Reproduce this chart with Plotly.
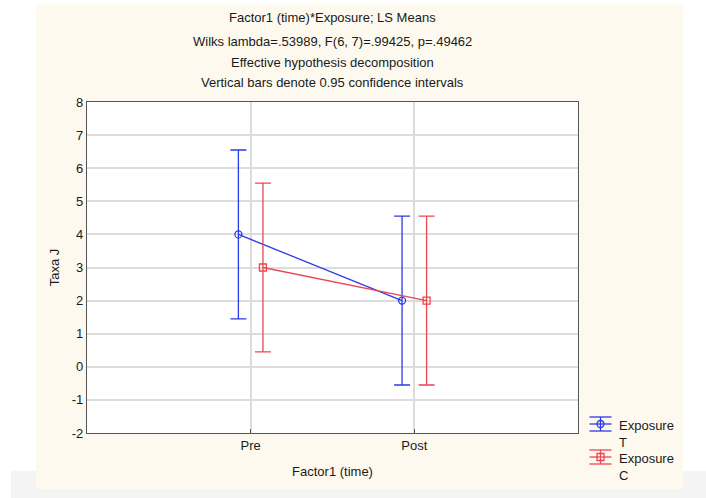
import plotly.graph_objects as go

# LS means by time point and exposure group, with 95% CI half-widths
categories = ["Pre", "Post"]
group_names = ["Exposure<br>T", "Exposure<br>C"]
means_T = [4.0, 2.0]
means_C = [3.0, 2.0]
ci_T = [2.55, 2.55]
ci_C = [2.55, 2.55]
y_ticks = [-2, -1, 0, 1, 2, 3, 4, 5, 6, 7, 8]

title_lines = [
    "Factor1 (time)*Exposure; LS Means",
    "Wilks lambda=.53989, F(6, 7)=.99425, p=.49462",
    "Effective hypothesis decomposition",
    "Vertical bars denote 0.95 confidence intervals",
]

W, H = 706, 498
L, R, T, B = 87, 128, 102, 65
pw, ph = W - L - R, H - T - B

def px_x(x):
    return (x - L) / pw

def px_y(y):
    return (H - B - y) / ph

FONT = "Liberation Sans, Arial, sans-serif"
BLUE = "#2B3BE6"
RED = "#EC4652"
shift = 0.075

fig = go.Figure()
series = [
    (group_names[0], means_T, ci_T, BLUE, "circle-open", "circle", -shift),
    (group_names[1], means_C, ci_C, RED, "square-open", "rect", shift),
]
for name, m, ci, col, sym, _, off in series:
    fig.add_trace(go.Scatter(
        x=[i + off for i in range(len(categories))],
        y=m,
        mode="lines+markers",
        name=name,
        showlegend=False,
        line=dict(color=col, width=1.3),
        marker=dict(symbol=sym, size=7, color=col, line=dict(width=1.3, color=col)),
        error_y=dict(type="data", array=ci, visible=True, color=col, thickness=1.3, width=8),
    ))

shapes = [
    # light strip at the bottom of the page
    dict(type="rect", xref="paper", yref="paper", layer="below",
         x0=px_x(11), x1=px_x(706), y0=px_y(498), y1=px_y(471),
         fillcolor="#F4F4F4", line=dict(width=0)),
    # cream panel behind the chart
    dict(type="rect", xref="paper", yref="paper", layer="below",
         x0=px_x(36), x1=px_x(683), y0=px_y(489), y1=px_y(4.5),
         fillcolor="#FDF9EE", line=dict(width=0)),
    # white plotting area
    dict(type="rect", xref="paper", yref="paper", layer="below",
         x0=0, x1=1, y0=0, y1=1,
         fillcolor="#FFFFFF", line=dict(width=0)),
]

annotations = []
for txt, ypx in zip(title_lines, [17, 41, 63, 82]):
    annotations.append(dict(
        text=txt, xref="paper", yref="paper", x=0.5, y=px_y(ypx),
        xanchor="center", yanchor="middle", showarrow=False,
        font=dict(family=FONT, size=13, color="#1a1a1a"),
    ))

# legend: error-bar glyph followed by a two-line label
gx0, gx1, gxc = 589.5, 611.5, 600.5
for k, (name, _, _, col, _, shp, _) in enumerate(series):
    cy = 424 + k * 33
    for dy in (-7, 0, 7):
        shapes.append(dict(type="line", xref="paper", yref="paper",
                           x0=px_x(gx0), x1=px_x(gx1), y0=px_y(cy + dy), y1=px_y(cy + dy),
                           line=dict(color=col, width=1.3)))
    shapes.append(dict(type="line", xref="paper", yref="paper",
                       x0=px_x(gxc), x1=px_x(gxc), y0=px_y(cy - 7), y1=px_y(cy + 7),
                       line=dict(color=col, width=1.3)))
    shapes.append(dict(type=shp, xref="paper", yref="paper",
                       x0=px_x(gxc - 3.5), x1=px_x(gxc + 3.5),
                       y0=px_y(cy + 3.5), y1=px_y(cy - 3.5),
                       fillcolor="rgba(0,0,0,0)", line=dict(color=col, width=1.3)))
    annotations.append(dict(
        text=name, xref="paper", yref="paper", x=px_x(617), y=px_y(cy - 8.5),
        xanchor="left", yanchor="top", align="left", showarrow=False,
        font=dict(family=FONT, size=13, color="#1a1a1a"),
    ))

fig.update_layout(
    width=W, height=H,
    margin=dict(l=L, r=R, t=T, b=B, autoexpand=False),
    paper_bgcolor="#FFFFFF",
    plot_bgcolor="rgba(0,0,0,0)",
    font=dict(family=FONT, size=13, color="#1a1a1a"),
    shapes=shapes,
    annotations=annotations,
    showlegend=False,
    xaxis=dict(
        range=[-1, 2], tickvals=list(range(len(categories))), ticktext=categories,
        showgrid=True, gridcolor="#DCDCDC", gridwidth=1.5,
        zeroline=False, showline=True, linecolor="#555555", linewidth=1.2, mirror=True,
        ticks="inside", ticklen=4, tickcolor="#555555",
        title=dict(text="Factor1 (time)", standoff=15, font=dict(size=13)),
        tickfont=dict(size=13),
    ),
    yaxis=dict(
        range=[-2, 8], tickvals=y_ticks, ticktext=[str(v) for v in y_ticks],
        showgrid=True, gridcolor="#DCDCDC", gridwidth=1.5,
        zeroline=False, showline=True, linecolor="#555555", linewidth=1.2, mirror=True,
        ticks="", title=dict(text="Taxa J", standoff=9, font=dict(size=13)),
        tickfont=dict(size=13),
    ),
)

fig.write_html("out.html")
